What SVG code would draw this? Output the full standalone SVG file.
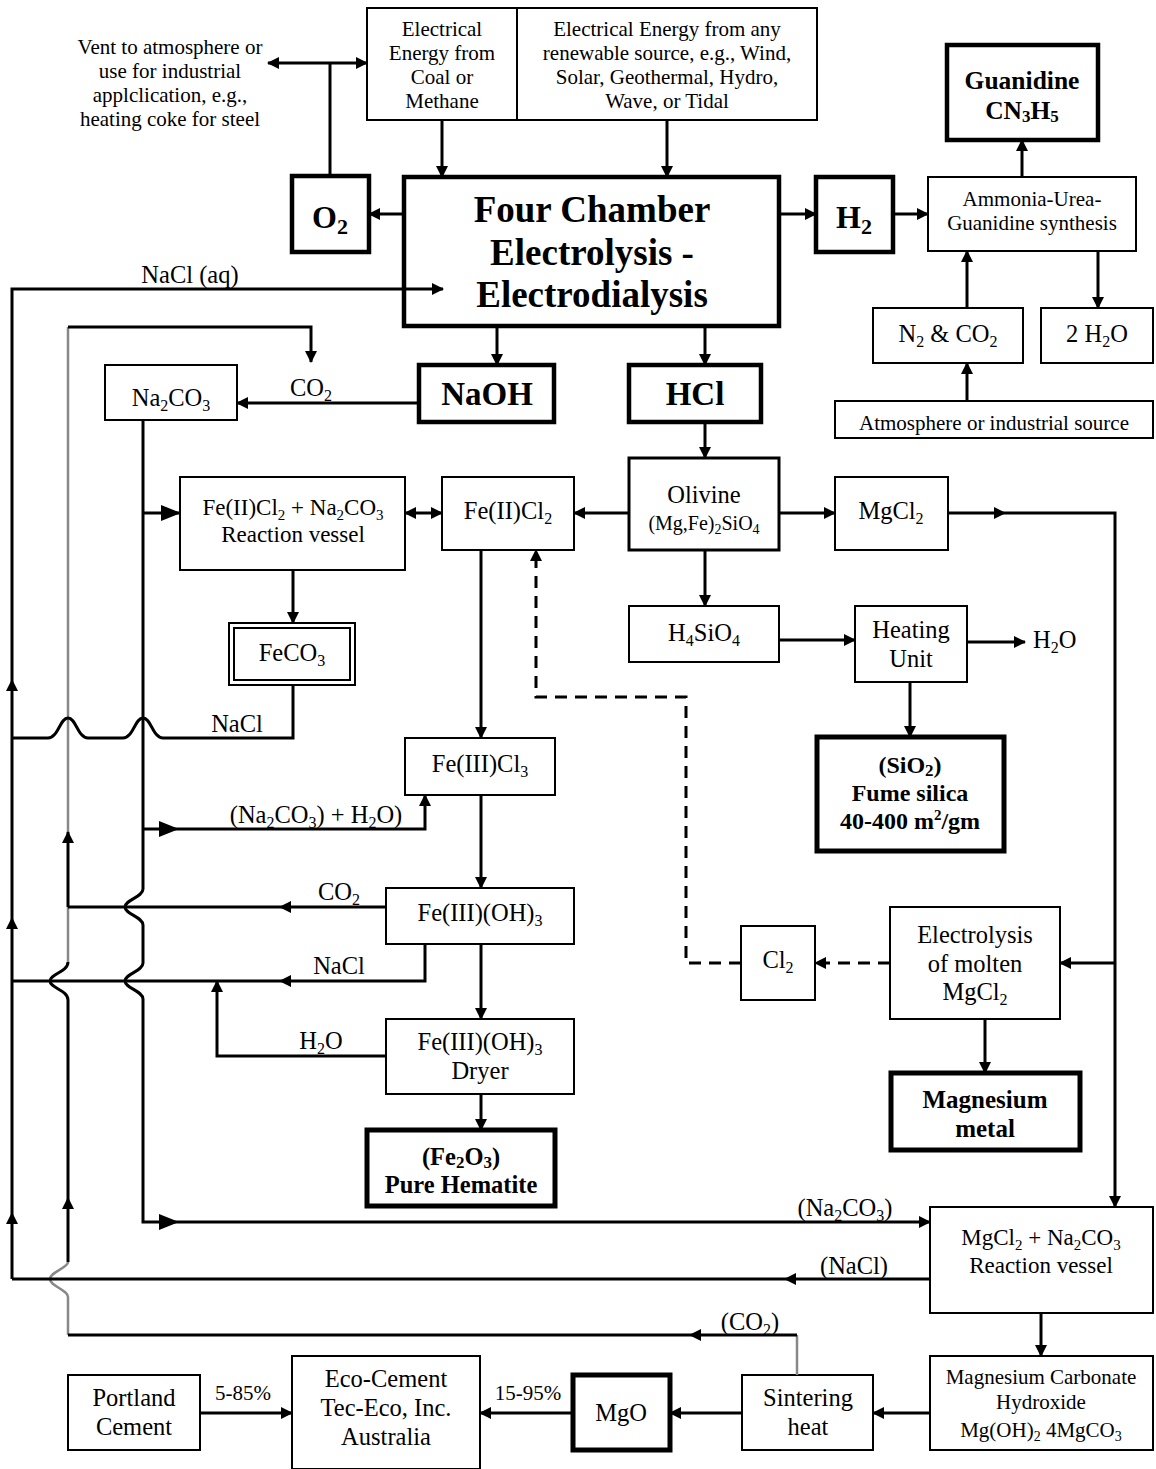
<svg xmlns="http://www.w3.org/2000/svg" width="1156" height="1469" viewBox="0 0 1156 1469">
<defs>
<marker id="a" markerUnits="userSpaceOnUse" markerWidth="12" markerHeight="12" refX="11" refY="6" orient="auto"><path d="M0,0 L12,6 L0,12 z" fill="#000"/></marker>
<marker id="b" markerUnits="userSpaceOnUse" markerWidth="20" markerHeight="16" refX="19" refY="8" orient="auto"><path d="M0,0 L20,8 L0,16 z" fill="#000"/></marker>
</defs>
<style>
text{font-family:"Liberation Serif","Times New Roman",serif;font-size:24.5px;text-anchor:middle;fill:#000}
.b{font-weight:bold}
.s{font-size:16px}
.m{font-size:21px}
.m .s{font-size:14px}
.box{fill:#fff;stroke:#000;stroke-width:2}
.thick{fill:#fff;stroke:#000;stroke-width:4.5}
.med{fill:#fff;stroke:#000;stroke-width:3}
.c{fill:none;stroke:#000;stroke-width:3}
.g{fill:none;stroke:#888;stroke-width:2.5}
.d{fill:none;stroke:#000;stroke-width:3;stroke-dasharray:12,8}
</style>

<g id="coal"><rect class="box" x="367" y="8" width="150" height="112"/>
<text class="m" x="442" y="36">Electrical</text><text class="m" x="442" y="60">Energy from</text><text class="m" x="442" y="84">Coal or</text><text class="m" x="442" y="108">Methane</text></g>
<g id="renewable"><rect class="box" x="517" y="8" width="300" height="112"/>
<text class="m" x="667" y="36">Electrical Energy from any</text><text class="m" x="667" y="60">renewable source, e.g., Wind,</text><text class="m" x="667" y="84">Solar, Geothermal, Hydro,</text><text class="m" x="667" y="108">Wave, or Tidal</text></g>
<g id="o2"><rect class="thick" x="292" y="176" width="77" height="76"/>
<text class="b" x="330" y="228" style="font-size:32px">O<tspan dy="6" style="font-size:22px">2</tspan></text></g>
<g id="fourchamber"><rect class="thick" x="404" y="177" width="375" height="149"/>
<text class="b" x="592" y="222" style="font-size:37px">Four Chamber</text><text class="b" x="592" y="265" style="font-size:37px">Electrolysis -</text><text class="b" x="592" y="307" style="font-size:37px">Electrodialysis</text></g>
<g id="h2"><rect class="thick" x="816" y="177" width="77" height="75"/>
<text class="b" x="854" y="228" style="font-size:32px">H<tspan dy="6" style="font-size:22px">2</tspan></text></g>
<g id="ammonia"><rect class="box" x="928" y="177" width="208" height="74"/>
<text class="m" x="1032" y="206">Ammonia-Urea-</text><text class="m" x="1032" y="230">Guanidine synthesis</text></g>
<g id="guanidine"><rect class="thick" x="947" y="45" width="151" height="95"/>
<text class="b" x="1022" y="89" style="font-size:25.5px">Guanidine</text><text class="b" x="1022" y="119" style="font-size:25.5px">CN<tspan style="font-size:17px" dy="3">3</tspan><tspan dy="-3">H</tspan><tspan style="font-size:17px" dy="3">5</tspan></text></g>
<g id="n2co2"><rect class="box" x="873" y="308" width="150" height="55"/>
<text x="948" y="342">N<tspan class="s" dy="5">2</tspan><tspan dy="-5"> &amp; CO</tspan><tspan class="s" dy="5">2</tspan></text></g>
<g id="h2o2"><rect class="box" x="1041" y="308" width="112" height="55"/>
<text x="1097" y="342">2 H<tspan class="s" dy="5">2</tspan><tspan dy="-5">O</tspan></text></g>
<g id="atmosphere"><rect class="box" x="835" y="401" width="318" height="37"/>
<text class="m" x="994" y="430">Atmosphere or industrial source</text></g>
<g id="na2co3"><rect class="box" x="105" y="365" width="132" height="55"/>
<text x="171" y="406">Na<tspan class="s" dy="5">2</tspan><tspan dy="-5">CO</tspan><tspan class="s" dy="5">3</tspan></text></g>
<g id="naoh"><rect class="thick" x="419" y="365" width="135" height="57"/>
<text class="b" x="487" y="405" style="font-size:33px">NaOH</text></g>
<g id="hcl"><rect class="thick" x="629" y="365" width="132" height="57"/>
<text class="b" x="695" y="405" style="font-size:33px">HCl</text></g>
<g id="olivine"><rect class="med" x="629" y="458" width="150" height="92"/>
<text x="704" y="503">Olivine</text><text x="704" y="530" style="font-size:20px">(Mg,Fe)<tspan style="font-size:14px" dy="4">2</tspan><tspan dy="-4">SiO</tspan><tspan style="font-size:14px" dy="4">4</tspan></text></g>
<g id="fe2cl2"><rect class="box" x="442" y="477" width="132" height="73"/>
<text x="508" y="519">Fe(II)Cl<tspan class="s" dy="5">2</tspan></text></g>
<g id="fe2vessel"><rect class="box" x="180" y="477" width="225" height="93"/>
<text x="293" y="515" style="font-size:23px">Fe(II)Cl<tspan style="font-size:15px" dy="5">2</tspan><tspan dy="-5"> + Na</tspan><tspan style="font-size:15px" dy="5">2</tspan><tspan dy="-5">CO</tspan><tspan style="font-size:15px" dy="5">3</tspan></text><text x="293" y="542" style="font-size:23px">Reaction vessel</text></g>
<g id="mgcl2"><rect class="box" x="835" y="477" width="113" height="73"/>
<text x="891" y="519">MgCl<tspan class="s" dy="5">2</tspan></text></g>
<g id="feco3"><rect class="box" x="229" y="623" width="126" height="62"/><rect fill="none" stroke="#000" stroke-width="2" x="234" y="628" width="116" height="52"/>
<text x="292" y="661">FeCO<tspan class="s" dy="5">3</tspan></text></g>
<g id="h4sio4"><rect class="box" x="629" y="606" width="150" height="56"/>
<text x="704" y="641">H<tspan class="s" dy="5">4</tspan><tspan dy="-5">SiO</tspan><tspan class="s" dy="5">4</tspan></text></g>
<g id="heating"><rect class="box" x="855" y="606" width="112" height="76"/>
<text x="911" y="638">Heating</text><text x="911" y="667">Unit</text></g>
<g id="sio2"><rect class="thick" x="817" y="737" width="187" height="114" style="stroke-width:5"/>
<text class="b" x="910" y="773" style="font-size:24px">(SiO<tspan style="font-size:17px" dy="3">2</tspan><tspan dy="-3">)</tspan></text><text class="b" x="910" y="801" style="font-size:24px">Fume silica</text><text class="b" x="910" y="829" style="font-size:24px">40-400 m<tspan style="font-size:15px" dy="-9">2</tspan><tspan dy="9">/gm</tspan></text></g>
<g id="fe3cl3"><rect class="box" x="405" y="738" width="150" height="57"/>
<text x="480" y="772">Fe(III)Cl<tspan class="s" dy="5">3</tspan></text></g>
<g id="feoh3"><rect class="box" x="386" y="888" width="188" height="56"/>
<text x="480" y="921">Fe(III)(OH)<tspan class="s" dy="5">3</tspan></text></g>
<g id="dryer"><rect class="box" x="386" y="1019" width="188" height="75"/>
<text x="480" y="1050">Fe(III)(OH)<tspan class="s" dy="5">3</tspan></text><text x="480" y="1079">Dryer</text></g>
<g id="hematite"><rect class="thick" x="367" y="1130" width="188" height="76" style="stroke-width:5"/>
<text class="b" x="461" y="1165" style="font-size:24.5px">(Fe<tspan style="font-size:17px" dy="3">2</tspan><tspan dy="-3">O</tspan><tspan style="font-size:17px" dy="3">3</tspan><tspan dy="-3">)</tspan></text><text class="b" x="461" y="1193" style="font-size:24.5px">Pure Hematite</text></g>
<g id="cl2"><rect class="box" x="741" y="926" width="74" height="74"/>
<text x="778" y="968">Cl<tspan class="s" dy="5">2</tspan></text></g>
<g id="electrolysis"><rect class="box" x="890" y="907" width="170" height="112"/>
<text x="975" y="943">Electrolysis</text><text x="975" y="972">of molten</text><text x="975" y="1000">MgCl<tspan class="s" dy="5">2</tspan></text></g>
<g id="magnesium"><rect class="thick" x="891" y="1073" width="189" height="77" style="stroke-width:5"/>
<text class="b" x="985" y="1108" style="font-size:25px">Magnesium</text><text class="b" x="985" y="1137" style="font-size:25px">metal</text></g>
<g id="mgvessel"><rect class="box" x="930" y="1207" width="223" height="106"/>
<text x="1041" y="1245" style="font-size:23px">MgCl<tspan style="font-size:15px" dy="5">2</tspan><tspan dy="-5"> + Na</tspan><tspan style="font-size:15px" dy="5">2</tspan><tspan dy="-5">CO</tspan><tspan style="font-size:15px" dy="5">3</tspan></text><text x="1041" y="1273" style="font-size:23px">Reaction vessel</text></g>
<g id="mgcarb"><rect class="box" x="930" y="1356" width="223" height="94"/>
<text class="m" x="1041" y="1384">Magnesium Carbonate</text><text class="m" x="1041" y="1409">Hydroxide</text><text class="m" x="1041" y="1437">Mg(OH)<tspan class="s" dy="4">2</tspan><tspan dy="-4"> 4MgCO</tspan><tspan class="s" dy="4">3</tspan></text></g>
<g id="sintering"><rect class="box" x="742" y="1375" width="131" height="75"/>
<text x="808" y="1406">Sintering</text><text x="808" y="1435">heat</text></g>
<g id="mgo"><rect class="thick" x="573" y="1375" width="97" height="75" style="stroke-width:5"/>
<text x="621" y="1421">MgO</text></g>
<g id="ecocement"><rect class="box" x="292" y="1356" width="188" height="113"/>
<text x="386" y="1387">Eco-Cement</text><text x="386" y="1416">Tec-Eco, Inc.</text><text x="386" y="1445">Australia</text></g>
<g id="portland"><rect class="box" x="68" y="1375" width="132" height="75"/>
<text x="134" y="1406">Portland</text><text x="134" y="1435">Cement</text></g>

<g id="connectors">
<path class="c" d="M330,176 V63"/>
<path class="c" d="M330,63 H268" marker-end="url(#a)"/>
<path class="c" d="M330,63 H367" marker-end="url(#a)"/>
<path class="c" d="M442,120 V177" marker-end="url(#a)"/>
<path class="c" d="M667,120 V177" marker-end="url(#a)"/>
<path class="c" d="M404,214 H369" marker-end="url(#a)"/>
<path class="c" d="M779,214 H816" marker-end="url(#a)"/>
<path class="c" d="M893,214 H928" marker-end="url(#a)"/>
<path class="c" d="M1022,177 V140" marker-end="url(#a)"/>
<path class="c" d="M967,308 V251" marker-end="url(#a)"/>
<path class="c" d="M1098,251 V308" marker-end="url(#a)"/>
<path class="c" d="M967,401 V363" marker-end="url(#a)"/>
<path class="c" d="M12,1279 V1213" marker-end="url(#a)"/>
<path class="c" d="M12,1213 V918" marker-end="url(#a)"/>
<path class="c" d="M12,918 V680" marker-end="url(#a)"/>
<path class="c" d="M12,680 V289 H443" marker-end="url(#a)"/>
<path class="g" d="M68,832 V327"/>
<path class="c" d="M68,327 H311 V362" marker-end="url(#a)"/>
<path class="c" d="M68,907 V832" marker-end="url(#a)"/>
<path class="g" d="M68,962 V907"/>
<path class="c" d="M68,1198 V1000 C68,990 50,988 50,981 C50,974 68,972 68,962"/>
<path class="c" d="M68,1262 V1198" marker-end="url(#a)"/>
<path class="g" d="M68,1335 V1297 C68,1290 50,1286 50,1279 C50,1272 68,1268 68,1262"/>
<path class="g" d="M797,1375 V1335"/>
<path class="c" d="M797,1335 H690" marker-end="url(#a)"/>
<path class="c" d="M690,1335 H68"/>
<path class="c" d="M497,326 V365" marker-end="url(#a)"/>
<path class="c" d="M705,326 V365" marker-end="url(#a)"/>
<path class="c" d="M419,403 H237" marker-end="url(#a)"/>
<path class="c" d="M143,420 V889 C143,897 125,900 125,907 C125,914 143,917 143,925 V963 C143,971 125,974 125,981 C125,988 143,991 143,999 V1222 H178" marker-end="url(#b)"/>
<path class="c" d="M178,1222 H930" marker-end="url(#a)"/>
<path class="c" d="M143,513 H180" marker-end="url(#b)"/>
<path class="c" d="M143,829 H178" marker-end="url(#b)"/>
<path class="c" d="M178,829 H425 V795" marker-end="url(#a)"/>
<path class="c" d="M705,422 V458" marker-end="url(#a)"/>
<path class="c" d="M629,513 H574" marker-end="url(#a)"/>
<path class="c" d="M420,513 H405" marker-end="url(#a)"/>
<path class="c" d="M420,513 H442" marker-end="url(#a)"/>
<path class="c" d="M779,513 H835" marker-end="url(#a)"/>
<path class="c" d="M948,513 H1005" marker-end="url(#a)"/>
<path class="c" d="M1005,513 H1115 V1207" marker-end="url(#a)"/>
<path class="c" d="M1115,963 H1060" marker-end="url(#a)"/>
<path class="c" d="M705,550 V606" marker-end="url(#a)"/>
<path class="c" d="M779,640 H855" marker-end="url(#a)"/>
<path class="c" d="M967,642 H1025" marker-end="url(#a)"/>
<path class="c" d="M910,682 V737" marker-end="url(#a)"/>
<path class="d" d="M741,963 H686 V697 H536 V550" marker-end="url(#a)"/>
<path class="d" d="M890,963 H815" marker-end="url(#a)"/>
<path class="c" d="M985,1019 V1073" marker-end="url(#a)"/>
<path class="c" d="M293,570 V623" marker-end="url(#a)"/>
<path class="c" d="M293,685 V738 H163 C153,738 151,718 143,718 C135,718 133,738 123,738 H88 C78,738 76,718 68,718 C60,718 58,738 48,738 H12"/>
<path class="c" d="M481,550 V738" marker-end="url(#a)"/>
<path class="c" d="M481,795 V888" marker-end="url(#a)"/>
<path class="c" d="M386,907 H280" marker-end="url(#a)"/>
<path class="c" d="M280,907 H68"/>
<path class="c" d="M425,944 V981 H280" marker-end="url(#a)"/>
<path class="c" d="M280,981 H12"/>
<path class="c" d="M481,944 V1019" marker-end="url(#a)"/>
<path class="c" d="M386,1056 H217 V981" marker-end="url(#a)"/>
<path class="c" d="M481,1094 V1130" marker-end="url(#a)"/>
<path class="c" d="M930,1279 H785" marker-end="url(#a)"/>
<path class="c" d="M785,1279 H12"/>
<path class="c" d="M1041,1313 V1356" marker-end="url(#a)"/>
<path class="c" d="M930,1413 H873" marker-end="url(#a)"/>
<path class="c" d="M742,1413 H670" marker-end="url(#a)"/>
<path class="c" d="M573,1413 H480" marker-end="url(#a)"/>
<path class="c" d="M200,1413 H292" marker-end="url(#a)"/>
</g>

<g id="labels">
<text class="m" x="170" y="54">Vent to atmosphere or</text>
<text class="m" x="170" y="78">use for industrial</text>
<text class="m" x="170" y="102">applclication, e.g.,</text>
<text class="m" x="170" y="126">heating coke for steel</text>
<text x="190" y="283">NaCl (aq)</text>
<text x="311" y="396">CO<tspan class="s" dy="5">2</tspan></text>
<text x="237" y="732">NaCl</text>
<text x="316" y="823">(Na<tspan class="s" dy="5">2</tspan><tspan dy="-5">CO</tspan><tspan class="s" dy="5">3</tspan><tspan dy="-5">) + H</tspan><tspan class="s" dy="5">2</tspan><tspan dy="-5">O)</tspan></text>
<text x="339" y="900">CO<tspan class="s" dy="5">2</tspan></text>
<text x="339" y="974">NaCl</text>
<text x="321" y="1049">H<tspan class="s" dy="5">2</tspan><tspan dy="-5">O</tspan></text>
<text x="1057" y="648" style="text-anchor:start;font-size:24.5px" transform="translate(-24,0)">H<tspan class="s" dy="5">2</tspan><tspan dy="-5">O</tspan></text>
<text x="845" y="1216">(Na<tspan class="s" dy="5">2</tspan><tspan dy="-5">CO</tspan><tspan class="s" dy="5">3</tspan><tspan dy="-5">)</tspan></text>
<text x="854" y="1274">(NaCl)</text>
<text x="750" y="1330">(CO<tspan class="s" dy="5">2</tspan><tspan dy="-5">)</tspan></text>
<text class="m" x="243" y="1400">5-85%</text>
<text class="m" x="528" y="1400">15-95%</text>
</g>
</svg>
